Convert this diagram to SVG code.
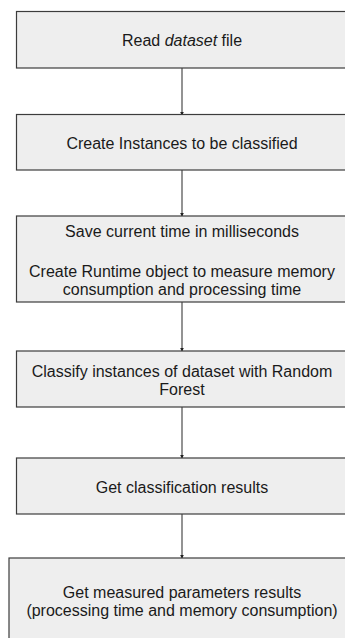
<svg xmlns="http://www.w3.org/2000/svg" width="345" height="638" viewBox="0 0 345 638">
<defs>
<style>
.box{fill:#eeeeee;stroke:#3c3c3c;stroke-width:1.2}
.t{font-family:"Liberation Sans",Arial,sans-serif;font-size:16px;fill:#1a1a1a;text-anchor:middle}
.c{stroke:#595959;stroke-width:1.3;fill:none}
</style>
<marker id="ah" viewBox="0 0 6 6" refX="5" refY="3" markerWidth="4" markerHeight="4" orient="auto" markerUnits="userSpaceOnUse">
<path d="M0,0 L6,3 L0,6 Z" fill="#222"/>
</marker>
</defs>
<g id="connectors">
<line class="c" x1="182" y1="68" x2="182" y2="115" marker-end="url(#ah)"/>
<line class="c" x1="182" y1="170" x2="182" y2="216" marker-end="url(#ah)"/>
<line class="c" x1="182" y1="302" x2="182" y2="351" marker-end="url(#ah)"/>
<line class="c" x1="182" y1="407" x2="182" y2="458" marker-end="url(#ah)"/>
<line class="c" x1="182" y1="514" x2="182" y2="558" marker-end="url(#ah)"/>
</g>
<g id="n1">
<rect class="box" x="16.5" y="11.5" width="332" height="56.5"/>
<text class="t" x="182" y="46">Read <tspan font-style="italic">dataset</tspan> file</text>
</g>
<g id="n2">
<rect class="box" x="16.5" y="114.5" width="332" height="55.5"/>
<text class="t" x="182" y="148.5">Create Instances to be classified</text>
</g>
<g id="n3">
<rect class="box" x="16.5" y="216" width="332" height="86"/>
<text class="t" x="182" y="237">Save current time in milliseconds</text>
<text class="t" x="182" y="276.5">Create Runtime object to measure memory</text>
<text class="t" x="182" y="294.5">consumption and processing time</text>
</g>
<g id="n4">
<rect class="box" x="16.5" y="351" width="332" height="56"/>
<text class="t" x="182" y="376.5">Classify instances of dataset with Random</text>
<text class="t" x="182" y="394.5">Forest</text>
</g>
<g id="n5">
<rect class="box" x="16.5" y="458" width="332" height="56"/>
<text class="t" x="182" y="492.5">Get classification results</text>
</g>
<g id="n6">
<rect class="box" x="9" y="558" width="346" height="90"/>
<text class="t" x="182" y="597.5">Get measured parameters results</text>
<text class="t" x="182" y="615.5">(processing time and memory consumption)</text>
</g>
</svg>
